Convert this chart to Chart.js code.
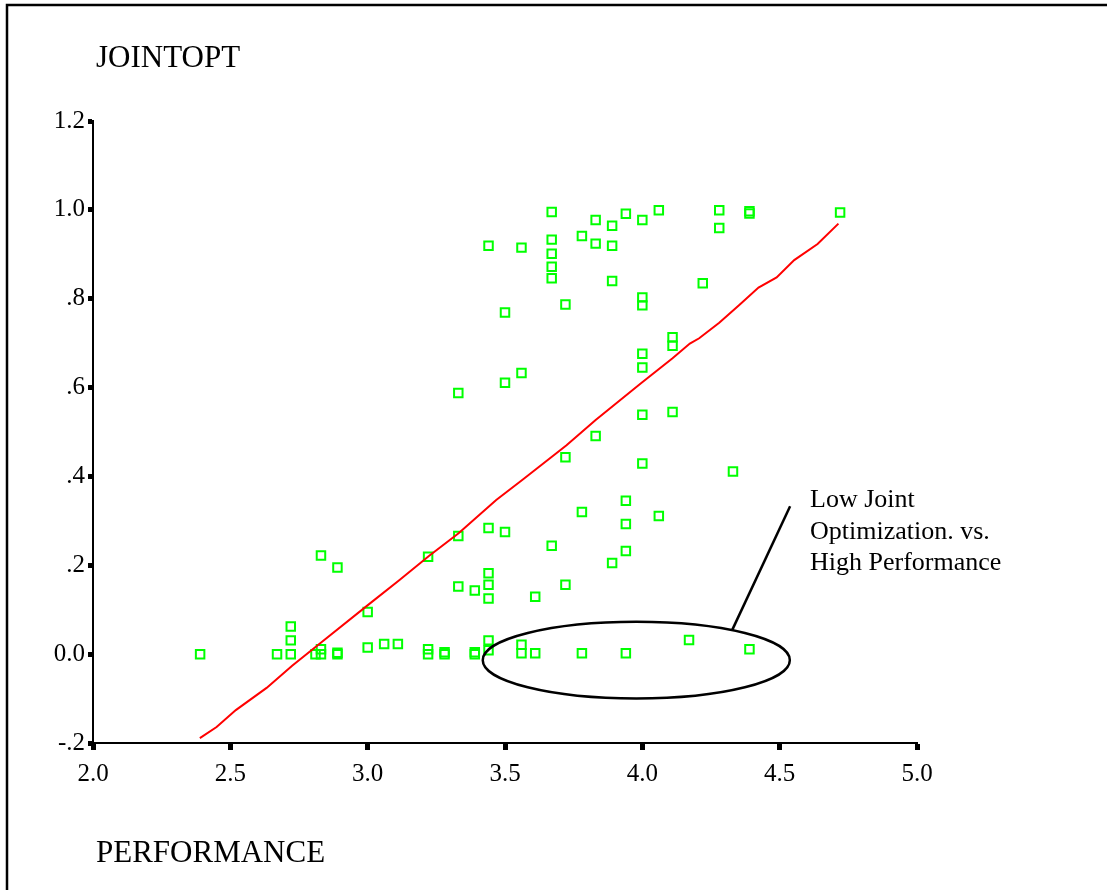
<!DOCTYPE html>
<html>
<head>
<meta charset="utf-8">
<script src="https://cdn.jsdelivr.net/npm/chart.js@4.4.0/dist/chart.umd.min.js"></script>
<style>
  html, body { margin: 0; padding: 0; background: #fff; }
  canvas { display: block; }
</style>
</head>
<body>
<canvas id="plot" width="1107" height="890"></canvas>
<script>
// Respondents: PERFORMANCE score vs JOINTOPT score
const perfX = [
  2.39, 2.67, 2.72, 2.72, 2.72, 2.83, 2.89, 2.81, 2.83, 2.83,
  2.89, 2.89, 3.00, 3.00, 3.06, 3.11, 3.22, 3.22, 3.22, 3.28,
  3.28, 3.33, 3.33, 3.33, 3.39, 3.39, 3.39, 3.44, 3.44, 3.44,
  3.44, 3.44, 3.44, 3.44, 3.50, 3.50, 3.50, 3.56, 3.56, 3.56,
  3.56, 3.61, 3.61, 3.67, 3.67, 3.67, 3.67, 3.67, 3.67, 3.72,
  3.72, 3.72, 3.78, 3.78, 3.78, 3.83, 3.83, 3.83, 3.89, 3.89,
  3.89, 3.89, 3.94, 3.94, 3.94, 3.94, 3.94, 4.00, 4.00, 4.00,
  4.00, 4.00, 4.00, 4.00, 4.06, 4.06, 4.11, 4.11, 4.11, 4.17,
  4.22, 4.28, 4.28, 4.33, 4.39, 4.39, 4.39, 4.72
];
const jointY = [
  0.000, 0.000, 0.062, 0.031, 0.000, 0.222, 0.195, 0.000, 0.011, 0.000,
  0.003, 0.000, 0.095, 0.015, 0.023, 0.023, 0.219, 0.011, 0.000, 0.004,
  0.000, 0.266, 0.152, 0.588, 0.143, 0.004, 0.000, 0.919, 0.284, 0.182,
  0.156, 0.125, 0.031, 0.009, 0.769, 0.611, 0.275, 0.915, 0.633, 0.021,
  0.002, 0.129, 0.002, 0.995, 0.933, 0.901, 0.872, 0.846, 0.244, 0.787,
  0.443, 0.156, 0.941, 0.320, 0.002, 0.977, 0.924, 0.491, 0.964, 0.919,
  0.840, 0.205, 0.991, 0.345, 0.293, 0.232, 0.002, 0.977, 0.803, 0.785,
  0.676, 0.645, 0.539, 0.429, 0.999, 0.311, 0.713, 0.694, 0.545, 0.032,
  0.835, 0.999, 0.959, 0.411, 0.997, 0.992, 0.011, 0.994
];

// Smoothed fit line through the cloud
const fitX = [
  2.389, 2.45, 2.52, 2.632, 2.725, 2.834, 3.004, 3.116, 3.223, 3.331,
  3.468, 3.565, 3.724, 3.83, 3.994, 4.11, 4.173, 4.207, 4.28, 4.353,
  4.423, 4.489, 4.553, 4.638, 4.714
];
const fitY = [
  -0.189, -0.164, -0.126, -0.076, -0.026, 0.028, 0.112, 0.167, 0.221, 0.272,
  0.347, 0.393, 0.470, 0.527, 0.609, 0.666, 0.699, 0.711, 0.746, 0.786,
  0.825, 0.848, 0.887, 0.923, 0.969
];

const xTickLabels = ['2.0', '2.5', '3.0', '3.5', '4.0', '4.5', '5.0'];
const yTickLabels = ['-.2', '0.0', '.2', '.4', '.6', '.8', '1.0', '1.2'];

const xTitle = 'PERFORMANCE';
const yTitle = 'JOINTOPT';
const noteLines = ['Low Joint', 'Optimization. vs.', 'High Performance'];

const SERIF = '"Liberation Serif", "Times New Roman", serif';

const points = perfX.map((x, i) => ({ x: x, y: jointY[i] }));
const fitPoints = fitX.map((x, i) => ({ x: x, y: fitY[i] }));

// Outer frame, axis titles and the callout around the low-JOINTOPT group
const decorations = {
  id: 'decorations',
  beforeDraw(chart) {
    const ctx = chart.ctx;
    ctx.save();
    ctx.fillStyle = '#fff';
    ctx.fillRect(0, 0, chart.width, chart.height);
    ctx.strokeStyle = '#000';
    ctx.lineWidth = 2.5;
    ctx.beginPath();
    ctx.moveTo(7, chart.height);
    ctx.lineTo(7, 5);
    ctx.lineTo(chart.width, 5);
    ctx.stroke();
    ctx.restore();
  },
  afterDraw(chart) {
    const ctx = chart.ctx;
    const xs = chart.scales.x, ys = chart.scales.y;
    ctx.save();
    ctx.fillStyle = '#000';
    ctx.textBaseline = 'alphabetic';
    ctx.textAlign = 'left';
    ctx.font = '31px ' + SERIF;
    ctx.fillText(yTitle, 96, 67);
    ctx.fillText(xTitle, 96, 862);

    // ellipse around the points near zero
    const cx = xs.getPixelForValue(3.978);
    const cy = ys.getPixelForValue(-0.0135);
    const rx = xs.getPixelForValue(3.978 + 0.559) - cx;
    const ry = ys.getPixelForValue(-0.0135 - 0.0862) - cy;
    ctx.strokeStyle = '#000';
    ctx.lineWidth = 2.5;
    ctx.beginPath();
    ctx.ellipse(cx, cy, rx, ry, 0, 0, Math.PI * 2);
    ctx.stroke();

    // leader line up to the note
    ctx.beginPath();
    ctx.moveTo(xs.getPixelForValue(4.327), ys.getPixelForValue(0.054));
    ctx.lineTo(xs.getPixelForValue(4.538), ys.getPixelForValue(0.333));
    ctx.stroke();

    ctx.font = '26px ' + SERIF;
    noteLines.forEach((t, i) => ctx.fillText(t, 810, 507 + i * 31.5));
    ctx.restore();
  }
};

const tickFont = { family: SERIF, size: 25 };

new Chart(document.getElementById('plot'), {
  data: {
    datasets: [
      {
        type: 'line',
        data: fitPoints,
        borderColor: '#ff0000',
        borderWidth: 2,
        pointRadius: 0,
        fill: false,
        tension: 0
      },
      {
        type: 'scatter',
        data: points,
        pointStyle: 'rect',
        pointRadius: 6,
        borderColor: '#00ff00',
        borderWidth: 2,
        backgroundColor: 'rgba(255,255,255,0)'
      }
    ]
  },
  options: {
    responsive: false,
    animation: false,
    devicePixelRatio: 1,
    layout: { padding: { top: 121, right: 190, bottom: 0, left: 0 } },
    plugins: { legend: { display: false }, tooltip: { enabled: false } },
    scales: {
      x: {
        type: 'linear',
        position: 'bottom',
        min: 2,
        max: 5,
        afterFit: s => { s.height = 147; },
        ticks: {
          stepSize: 0.5,
          autoSkip: false,
          maxRotation: 0,
          padding: 9,
          color: '#000',
          font: tickFont,
          callback: (v, i) => xTickLabels[i]
        },
        grid: { drawOnChartArea: false, tickLength: 7, tickWidth: 5, tickColor: '#000' },
        border: { color: '#000', width: 2 }
      },
      y: {
        type: 'linear',
        position: 'left',
        min: -0.2,
        max: 1.2,
        afterFit: s => { s.width = 93; },
        ticks: {
          stepSize: 0.2,
          autoSkip: false,
          padding: 3,
          color: '#000',
          font: tickFont,
          callback: (v, i) => yTickLabels[i]
        },
        grid: { drawOnChartArea: false, tickLength: 5, tickWidth: 5, tickColor: '#000' },
        border: { color: '#000', width: 2 }
      }
    }
  },
  plugins: [decorations]
});
</script>
</body>
</html>
